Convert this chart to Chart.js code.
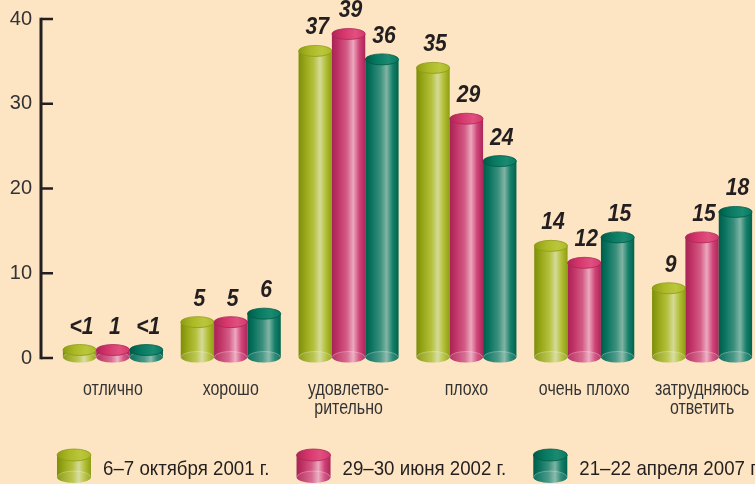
<!DOCTYPE html>
<html><head><meta charset="utf-8">
<script src="https://cdn.jsdelivr.net/npm/chart.js@4.4.0/dist/chart.umd.min.js"></script>
<style>
html,body{margin:0;padding:0;overflow:hidden;background:#fde5c3;}
#wrap{width:761px;height:484px;}
</style></head><body>
<div id="wrap"><canvas id="c" width="761" height="484"></canvas></div>
<script>
const categories = ['отлично','хорошо',['удовлетво-','рительно'],'плохо','очень плохо',['затрудняюсь','ответить']];
const seriesNames = ['6–7 октября 2001 г.','29–30 июня 2002 г.','21–22 апреля 2007 г.'];
const oct2001 = [0.7, 5, 37, 35, 14, 9];
const jun2002 = [1, 5, 39, 29, 12, 15];
const apr2007 = [0.7, 6, 36, 24, 15, 18];
const oct2001Labels = ['<1','5','37','35','14','9'];
const jun2002Labels = ['1','5','39','29','12','15'];
const apr2007Labels = ['<1','6','36','24','15','18'];
const yTicks = [0, 10, 20, 30, 40];

const FONT = '"Liberation Sans",Arial,sans-serif';
const palettes = [
 {stops:[[0,'#7d8d0a'],[0.18,'#95a516'],[0.45,'#b4c03c'],[0.64,'#d4da98'],[0.82,'#b2bf34'],[1,'#8e9d12']], top:'#abb926', topLight:'#bac73c', rim:'#8d9b14'},
 {stops:[[0,'#a52455'],[0.18,'#c03264'],[0.45,'#d35c86'],[0.64,'#eba8be'],[0.82,'#d04478'],[1,'#ab2659']], top:'#d6366c', topLight:'#e0507f', rim:'#ad2656'},
 {stops:[[0,'#005c48'],[0.18,'#087360'],[0.45,'#3a8f7c'],[0.64,'#80b4a4'],[0.82,'#16806a'],[1,'#00634e']], top:'#087a62', topLight:'#1a8a70', rim:'#005a46'}
];
const seriesValues = [oct2001, jun2002, apr2007];
const seriesLabels = [oct2001Labels, jun2002Labels, apr2007Labels];

function drawCylinder(ctx, cx, w, yTop, yBot, ry, p){
  const rx = w/2, l = cx-rx, r = cx+rx;
  const g = ctx.createLinearGradient(l,0,r,0);
  p.stops.forEach(s=>g.addColorStop(s[0],s[1]));
  ctx.beginPath();
  ctx.moveTo(l,yTop); ctx.lineTo(l,yBot);
  ctx.ellipse(cx,yBot,rx,ry,0,Math.PI,0,true);
  ctx.lineTo(r,yTop); ctx.closePath();
  ctx.fillStyle=g; ctx.fill();
  ctx.beginPath(); ctx.ellipse(cx,yBot,rx-0.5,ry,0,0,Math.PI*2);
  ctx.fillStyle='rgba(255,255,255,0.10)'; ctx.fill();
  ctx.beginPath(); ctx.ellipse(cx,yBot,rx-0.5,ry,0,Math.PI,0,false);
  ctx.strokeStyle='rgba(255,255,255,0.28)'; ctx.lineWidth=1; ctx.stroke();
  const tg = ctx.createLinearGradient(l,0,r,0);
  tg.addColorStop(0,p.rim); tg.addColorStop(0.35,p.top); tg.addColorStop(0.7,p.topLight); tg.addColorStop(1,p.top);
  ctx.beginPath(); ctx.ellipse(cx,yTop,rx,ry,0,0,Math.PI*2);
  ctx.fillStyle=tg; ctx.fill();
  ctx.strokeStyle=p.rim; ctx.lineWidth=0.8; ctx.stroke();
}

function condensedText(ctx, text, x, y, sx){
  ctx.save();
  ctx.translate(x, y);
  ctx.scale(sx, 1);
  ctx.fillText(text, 0, 0);
  ctx.restore();
}

const cylinderPlugin = {
  id:'cyl',
  afterDatasetsDraw(chart){
    const ctx = chart.ctx;
    const ry = 5.5;
    const tops = [];
    ctx.save();
    chart.data.datasets.forEach((ds,d)=>{
      const meta = chart.getDatasetMeta(d);
      meta.data.forEach((el,i)=>{
        const yBot = el.base - 1;
        const yTop = Math.min(el.y + ry + 1, yBot - 7);
        drawCylinder(ctx, el.x, el.width, yTop, yBot, ry, palettes[d]);
        tops.push({x:el.x, y:yTop-ry, t:seriesLabels[d][i]});
      });
    });
    ctx.fillStyle='#231f20';
    ctx.font='italic bold 23px '+FONT;
    ctx.textAlign='center'; ctx.textBaseline='alphabetic';
    tops.forEach(o=>condensedText(ctx, o.t, o.x+2, o.y-11, 0.92));
    ctx.restore();
  }
};

const axisPlugin = {
  id:'axes',
  afterDraw(chart){
    const ctx = chart.ctx, y = chart.scales.y, x = chart.scales.x;
    const ax = chart.chartArea.left - 13;
    ctx.save();
    ctx.strokeStyle='#231f20'; ctx.lineWidth=3; ctx.lineCap='butt';
    ctx.beginPath();
    ctx.moveTo(ax, y.getPixelForValue(40)-1.25);
    ctx.lineTo(ax, y.getPixelForValue(0)+1.25);
    ctx.stroke();
    ctx.lineWidth=2.5;
    yTicks.forEach(v=>{
      const py = y.getPixelForValue(v);
      ctx.beginPath(); ctx.moveTo(ax, py); ctx.lineTo(ax+12, py); ctx.stroke();
    });
    ctx.fillStyle='#333333';
    ctx.font='21px '+FONT;
    ctx.textAlign='center'; ctx.textBaseline='alphabetic';
    x.ticks.forEach((t,i)=>{
      const px = x.getPixelForTick(i);
      const lab = chart.data.labels[i];
      const lines = Array.isArray(lab) ? lab : [lab];
      lines.forEach((ln,k)=>condensedText(ctx, ln, px, chart.chartArea.bottom + 37 + k*19, 0.76));
    });
    ctx.restore();
  }
};

const legendPlugin = {
  id:'cylLegend',
  afterDraw(chart){
    const ctx = chart.ctx;
    const cy = 467;
    const sx = 0.89;
    let x = 57;
    ctx.save();
    ctx.font='21px '+FONT;
    ctx.textBaseline='alphabetic'; ctx.textAlign='left';
    seriesNames.forEach((name,d)=>{
      drawCylinder(ctx, x+17, 34, cy-12, cy+10, 6, palettes[d]);
      ctx.fillStyle='#231f20';
      condensedText(ctx, name, x+46, 475, sx);
      x += 46 + ctx.measureText(name).width*sx + 27;
    });
    ctx.restore();
  }
};

new Chart(document.getElementById('c'), {
  type:'bar',
  data:{
    labels:categories,
    datasets: seriesNames.map((n,d)=>({
      label:n, data:seriesValues[d],
      backgroundColor:'rgba(0,0,0,0)', borderWidth:0,
      barPercentage:1.0, categoryPercentage:0.849
    }))
  },
  options:{
    responsive:false, devicePixelRatio:1, animation:false,
    layout:{padding:{top:19,right:0,bottom:38,left:0}},
    plugins:{legend:{display:false}, tooltip:{enabled:false}},
    scales:{
      x:{
        offset:true,
        grid:{display:false, drawTicks:false}, border:{display:false},
        ticks:{display:false, autoSkip:false, maxRotation:0},
        afterFit(s){ s.height = 88; s.paddingLeft = 0; s.paddingRight = 0; }
      },
      y:{
        min:0, max:40,
        grid:{display:false, drawTicks:false}, border:{display:false},
        ticks:{stepSize:10,font:{family:FONT,size:20},color:'#333333',padding:22},
        afterFit(s){ s.width = 54; s.paddingTop = 0; s.paddingBottom = 0; }
      }
    }
  },
  plugins:[cylinderPlugin, axisPlugin, legendPlugin]
});
</script>
</body></html>
